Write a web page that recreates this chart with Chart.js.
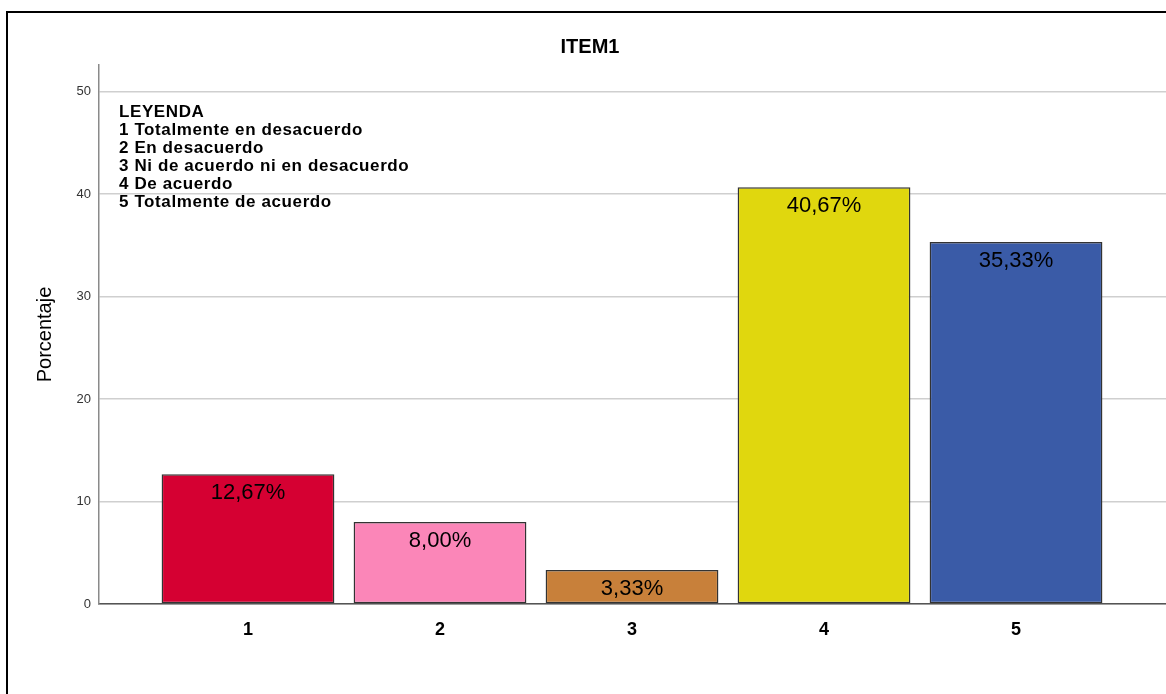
<!DOCTYPE html>
<html>
<head>
<meta charset="utf-8">
<script src="https://cdn.jsdelivr.net/npm/chart.js@4/dist/chart.umd.min.js"></script>
<style>
  html, body { margin: 0; padding: 0; background: #fff; overflow: hidden; width: 1166px; height: 694px; }
  #wrap { position: relative; width: 1166px; height: 694px; overflow: hidden; }
  #frame { position: absolute; left: 6px; top: 11px; width: 1300px; height: 800px; border-left: 2px solid #000; border-top: 2px solid #000; pointer-events: none; }
  #box { position: absolute; left: 0; top: 0; width: 1180px; height: 694px; }
  #leyenda { position: absolute; left: 119px; top: 103px; font: bold 17px "Liberation Sans", Arial, sans-serif; line-height: 18px; letter-spacing: 0.6px; color: #000; white-space: pre; }
</style>
</head>
<body>
<div id="wrap">
  <div id="box"><canvas id="chart" width="1180" height="694"></canvas></div>
  <div id="frame"></div>
  <div id="leyenda"></div>
</div>
<script>
// datos del gráfico ITEM1
const categories = ["1", "2", "3", "4", "5"];
const porcentajes = [12.67, 8.00, 3.33, 40.67, 35.33];
const barColors = ["#d50032", "#fb86b8", "#c8803a", "#e0d70e", "#3a5ba7"];
const yTicks = [0, 10, 20, 30, 40, 50];
const leyenda = [
  "LEYENDA",
  "1 Totalmente en desacuerdo",
  "2 En desacuerdo",
  "3 Ni de acuerdo ni en desacuerdo",
  "4 De acuerdo",
  "5 Totalmente de acuerdo",
];

document.getElementById("leyenda").textContent = leyenda.join("\n");

// etiquetas de valor dentro de cada barra
const valueLabels = {
  id: "valueLabels",
  afterDatasetsDraw(chart) {
    const ctx = chart.ctx;
    const meta = chart.getDatasetMeta(0);
    ctx.save();
    ctx.font = "22px 'Liberation Sans', Arial, sans-serif";
    ctx.fillStyle = "#000";
    ctx.textAlign = "center";
    ctx.textBaseline = "middle";
    meta.data.forEach((bar, i) => {
      const txt = porcentajes[i].toFixed(2).replace(".", ",") + "%";
      ctx.fillText(txt, bar.x, bar.y + 19);
    });
    ctx.restore();
  },
};

const chart = new Chart(document.getElementById("chart").getContext("2d"), {
  type: "bar",
  data: {
    datasets: [
      {
        label: "Porcentaje",
        data: porcentajes.map((v, i) => ({ x: i + 1, y: v })),
        backgroundColor: barColors,
        borderColor: "#333",
        borderWidth: 1.5,
        borderSkipped: false,
        barPercentage: 0.9,
        categoryPercentage: 1,
      },
    ],
  },
  options: {
    responsive: false,
    animation: false,
    layout: { padding: 0 },
    plugins: {
      legend: { display: false },
      tooltip: { enabled: false },
      title: {
        display: true,
        text: "ITEM1",
        color: "#000",
        font: { family: "'Liberation Sans', Arial, sans-serif", size: 20, weight: "bold" },
        padding: { top: 35, bottom: 6 },
      },
    },
    scales: {
      x: {
        type: "linear",
        min: 0.224,
        max: 5.854,
        offset: false,
        afterBuildTicks: (s) => { s.ticks = categories.map((c, i) => ({ value: i + 1 })); },
        afterFit: (s) => { s.height = 90; },
        ticks: {
          callback: (v) => categories[v - 1],
          color: "#000",
          padding: 15,
          font: { family: "'Liberation Sans', Arial, sans-serif", size: 18, weight: "bold" },
        },
        grid: { display: false, drawTicks: false },
        border: { display: true, color: "#555", width: 1.5 },
      },
      y: {
        min: 0,
        max: 52.6,
        afterBuildTicks: (s) => { s.ticks = yTicks.map((v) => ({ value: v })); },
        afterFit: (s) => { s.width = 99; },
        ticks: {
          color: "#333",
          padding: 8,
          font: { family: "'Liberation Sans', Arial, sans-serif", size: 13 },
        },
        grid: { color: "#cfcfcf", lineWidth: 1.5, drawTicks: false },
        border: { display: true, color: "#8a8a8a", width: 1.5 },
        title: {
          display: true,
          text: "Porcentaje",
          color: "#000",
          font: { family: "'Liberation Sans', Arial, sans-serif", size: 20 },
          padding: { top: 33, bottom: 0 },
        },
      },
    },
  },
  plugins: [valueLabels],
});
</script>
</body>
</html>
